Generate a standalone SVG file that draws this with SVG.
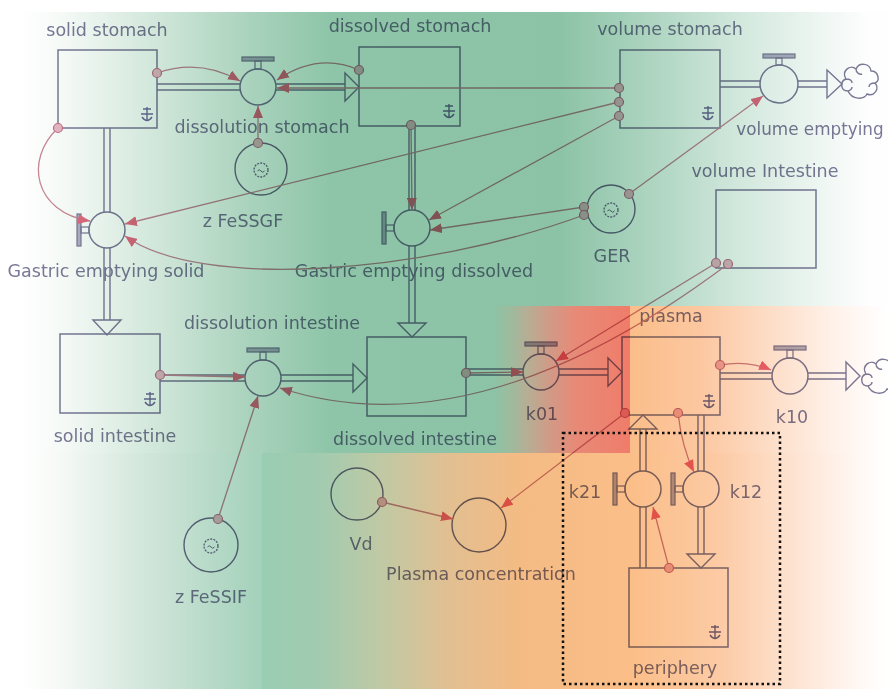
<svg xmlns="http://www.w3.org/2000/svg" width="888" height="689" viewBox="0 0 888 689">
<defs>
  <!-- background washes -->
  <linearGradient id="gTop" gradientUnits="userSpaceOnUse" x1="18" y1="0" x2="888" y2="0">
    <stop offset="0" stop-color="#ffffff"/>
    <stop offset="0.048" stop-color="#f6faf7"/>
    <stop offset="0.152" stop-color="#d3e8dc"/>
    <stop offset="0.267" stop-color="#a9d2bc"/>
    <stop offset="0.359" stop-color="#8ec5a8"/>
    <stop offset="0.623" stop-color="#8cc3a6"/>
    <stop offset="0.715" stop-color="#a9d2bd"/>
    <stop offset="0.83" stop-color="#d2e8dd"/>
    <stop offset="0.922" stop-color="#eef6f2"/>
    <stop offset="0.98" stop-color="#fefefe"/>
  </linearGradient>
  <linearGradient id="gRed" gradientUnits="userSpaceOnUse" x1="493" y1="0" x2="630" y2="0">
    <stop offset="0" stop-color="#8cc3a6"/>
    <stop offset="0.124" stop-color="#9dbb9e"/>
    <stop offset="0.27" stop-color="#b9ac93"/>
    <stop offset="0.416" stop-color="#d19a86"/>
    <stop offset="0.6" stop-color="#e78a77"/>
    <stop offset="1" stop-color="#f07c6a"/>
  </linearGradient>
  <linearGradient id="gOrange" gradientUnits="userSpaceOnUse" x1="630" y1="0" x2="888" y2="0">
    <stop offset="0" stop-color="#fbbe8a"/>
    <stop offset="0.27" stop-color="#fcc7a0"/>
    <stop offset="0.58" stop-color="#fde0cc"/>
    <stop offset="0.81" stop-color="#fff3ec"/>
    <stop offset="1" stop-color="#ffffff"/>
  </linearGradient>
  <linearGradient id="gBL" gradientUnits="userSpaceOnUse" x1="20" y1="0" x2="262" y2="0">
    <stop offset="0" stop-color="#ffffff"/>
    <stop offset="0.17" stop-color="#f5f9f6"/>
    <stop offset="0.54" stop-color="#cfe5d9"/>
    <stop offset="1" stop-color="#a3d1ba"/>
  </linearGradient>
  <linearGradient id="gBR" gradientUnits="userSpaceOnUse" x1="262" y1="0" x2="888" y2="0">
    <stop offset="0" stop-color="#99cdb2"/>
    <stop offset="0.093" stop-color="#a2cbb0"/>
    <stop offset="0.204" stop-color="#c4c8a2"/>
    <stop offset="0.3" stop-color="#e2bf91"/>
    <stop offset="0.412" stop-color="#f4bb84"/>
    <stop offset="0.587" stop-color="#fbbe88"/>
    <stop offset="0.73" stop-color="#fccaa4"/>
    <stop offset="0.859" stop-color="#fee5d5"/>
    <stop offset="0.955" stop-color="#fff8f4"/>
    <stop offset="1" stop-color="#ffffff"/>
  </linearGradient>

  <!-- filled arrowhead of an information link -->
  <marker id="ah" viewBox="0 0 12 10" refX="12" refY="5" markerWidth="12" markerHeight="10" markerUnits="userSpaceOnUse" orient="auto">
    <path d="M0,0 L12,5 L0,10 Z" fill="#e66b80"/>
  </marker>

  <!-- non-negative stock mark -->
  <path id="nonneg" d="M-4,-6 H4 M0,-8 V5 M-6,-1 H6 M-5,2 Q0,9 5,2" fill="none" stroke="#6f6c9c" stroke-width="1.4"/>
  <!-- graphical-function mark inside converters -->
  <g id="gf">
    <circle r="7" fill="none" stroke="#6f6d8f" stroke-width="1.3" stroke-dasharray="2 1.2"/>
    <path d="M-3.5,1 q1.75,-2.5 3.5,0 t3.5,0" fill="none" stroke="#6f6d8f" stroke-width="1"/>
  </g>
  <!-- cloud (source / sink) -->
  <path id="cloud" d="M-12,10 C-20,10 -20,0 -14,-2 C-19,-10 -10,-17 -4,-12 C-1,-19 10,-18 11,-10 C19,-10 20,0 15,2 C20,8 14,16 7,13 C4,19 -8,19 -12,10 Z M-4,-12 C-4,-8 0,-6 2,-7 M15,2 C11,2 9,4 9,6 M-14,-2 C-10,-2 -8,0 -8,2 M-12,10 C-9,9 -8,7 -8,6" fill="none" stroke="#7b7998" stroke-width="1.4"/>
</defs>
<style>
  .stock { fill: none; stroke: #7b7998; stroke-width: 1.5; }
  .valve { fill: none; stroke: #7b7998; stroke-width: 1.5; }
  .conv { fill: none; stroke: #6f6d8c; stroke-width: 1.4; }
  .bar { fill: #b3b1c6; stroke: #7b7998; stroke-width: 1.2; }
  .stem { fill: none; stroke: #7b7998; stroke-width: 1.2; }
  .pipe { fill: none; stroke: #7b7998; stroke-width: 1.4; }
  .head { fill: none; stroke: #7b7998; stroke-width: 1.4; stroke-linejoin: miter; }
  .link { fill: none; stroke: #c98796; stroke-width: 1.3; marker-end: url(#ah); }
  .org { fill: #eab7c5; stroke: #c0708a; stroke-width: 1.2; }
  text { font-family: "DejaVu Sans", "Liberation Sans", sans-serif; font-size: 17.5px; fill: #7b7998; text-anchor: middle; }
</style>

<g id="background">
  <rect x="0" y="0" width="888" height="689" fill="#ffffff"/>
  <rect x="18" y="12" width="870" height="442" fill="url(#gTop)"/>
  <rect x="493" y="306" width="137" height="148" fill="url(#gRed)"/>
  <rect x="630" y="306" width="258" height="148" fill="url(#gOrange)"/>
  <rect x="20" y="453" width="242" height="236" fill="url(#gBL)"/>
  <rect x="262" y="453" width="626" height="236" fill="url(#gBR)"/>
</g>

<g id="model" style="mix-blend-mode:multiply">
  <!-- flow pipes -->
  <g id="pipes">
    <path class="pipe" d="M157,84 H240.5 M157,90 H240.5 M275.5,84 H345 M275.5,90 H345"/>
    <polygon class="head" points="345,73 359,87 345,101"/>
    <path class="pipe" d="M720,81 H760.2 M720,87 H760.2 M797.8,81 H827 M797.8,87 H827"/>
    <polygon class="head" points="827,70 842,84 827,98"/>
    <path class="pipe" d="M104,128 V212.3 M110,128 V212.3 M104,247.7 V320 M110,247.7 V320"/>
    <polygon class="head" points="93,320 107,335 121,320"/>
    <path class="pipe" d="M409,126 V210.3 M415,126 V210.3 M409,245.7 V323 M415,245.7 V323"/>
    <polygon class="head" points="398,323 412,337 426,323"/>
    <path class="pipe" d="M160,375 H245.3 M160,381 H245.3 M280.7,375 H353 M280.7,381 H353"/>
    <polygon class="head" points="353,364 367,378 353,392"/>
    <path class="pipe" d="M466,369 H523.3 M466,375 H523.3 M558.7,369 H608 M558.7,375 H608"/>
    <polygon class="head" points="608,358 622,372 608,386"/>
    <path class="pipe" d="M720,373 H772.3 M720,379 H772.3 M807.7,373 H846 M807.7,379 H846"/>
    <polygon class="head" points="846,362 860,376 846,390"/>
    <path class="pipe" d="M698,415 V471.3 M704,415 V471.3 M698,506.7 V554 M704,506.7 V554"/>
    <polygon class="head" points="687,554 701,568 715,554"/>
    <path class="pipe" d="M640,568 V506.7 M646,568 V506.7 M640,471.3 V429 M646,471.3 V429"/>
    <polygon class="head" points="629,429 643,415 657,429"/>
    <use href="#cloud" x="860" y="81"/>
    <use href="#cloud" x="880" y="376"/>
  </g>

  <!-- stocks -->
  <g id="solid-stomach">
    <rect class="stock" x="58" y="50" width="99" height="78"/>
    <use href="#nonneg" x="147" y="115"/>
    <text x="107" y="36">solid stomach</text>
  </g>
  <g id="dissolved-stomach">
    <rect class="stock" x="359" y="47" width="101" height="79"/>
    <use href="#nonneg" x="449" y="112"/>
    <text x="410" y="32">dissolved stomach</text>
  </g>
  <g id="volume-stomach">
    <rect class="stock" x="620" y="50" width="100" height="78"/>
    <use href="#nonneg" x="708" y="114"/>
    <text x="670" y="35">volume stomach</text>
  </g>
  <g id="volume-intestine">
    <rect class="stock" x="716" y="190" width="100" height="78"/>
    <text x="765" y="177">volume Intestine</text>
  </g>
  <g id="solid-intestine">
    <rect class="stock" x="60" y="334" width="100" height="79"/>
    <use href="#nonneg" x="150" y="400"/>
    <text x="115" y="442">solid intestine</text>
  </g>
  <g id="dissolved-intestine">
    <rect class="stock" x="367" y="337" width="99" height="79"/>
    <text x="415" y="445">dissolved intestine</text>
  </g>
  <g id="plasma">
    <rect class="stock" x="622" y="337" width="98" height="78"/>
    <use href="#nonneg" x="709" y="402"/>
    <text x="671" y="322">plasma</text>
  </g>
  <g id="periphery">
    <rect class="stock" x="629" y="568" width="99" height="79"/>
    <use href="#nonneg" x="715" y="633"/>
    <text x="675" y="674">periphery</text>
  </g>

  <!-- flows -->
  <g id="dissolution-stomach">
    <rect class="bar" x="242" y="57" width="32" height="4"/>
    <rect class="stem" x="255" y="61" width="6" height="8"/>
    <circle class="valve" cx="258" cy="87" r="18"/>
    <text x="262" y="133">dissolution stomach</text>
  </g>
  <g id="volume-emptying">
    <rect class="bar" x="763" y="54" width="32" height="4"/>
    <rect class="stem" x="776" y="58" width="6" height="7"/>
    <circle class="valve" cx="779" cy="84" r="19"/>
    <text x="810" y="135" style="font-size:16.8px">volume emptying</text>
  </g>
  <g id="gastric-emptying-solid">
    <rect class="bar" x="77" y="214" width="4" height="32"/>
    <rect class="stem" x="81" y="227" width="8" height="6"/>
    <circle class="valve" cx="107" cy="230" r="18"/>
    <text x="106" y="277">Gastric emptying solid</text>
  </g>
  <g id="gastric-emptying-dissolved">
    <rect class="bar" x="382" y="212" width="4" height="32"/>
    <rect class="stem" x="386" y="225" width="8" height="6"/>
    <circle class="valve" cx="412" cy="228" r="18"/>
    <text x="414" y="277">Gastric emptying dissolved</text>
  </g>
  <g id="dissolution-intestine">
    <rect class="bar" x="247" y="348" width="32" height="4"/>
    <rect class="stem" x="260" y="352" width="6" height="8"/>
    <circle class="valve" cx="263" cy="378" r="18"/>
    <text x="272" y="329">dissolution intestine</text>
  </g>
  <g id="k01">
    <rect class="bar" x="525" y="342" width="32" height="4"/>
    <rect class="stem" x="538" y="346" width="6" height="8"/>
    <circle class="valve" cx="541" cy="372" r="18"/>
    <text x="542" y="420">k01</text>
  </g>
  <g id="k10">
    <rect class="bar" x="774" y="346" width="32" height="4"/>
    <rect class="stem" x="787" y="350" width="6" height="8"/>
    <circle class="valve" cx="790" cy="376" r="18"/>
    <text x="792" y="423">k10</text>
  </g>
  <g id="k21">
    <rect class="bar" x="613" y="473" width="4" height="32"/>
    <rect class="stem" x="617" y="486" width="8" height="6"/>
    <circle class="valve" cx="643" cy="489" r="18"/>
    <text x="585" y="498">k21</text>
  </g>
  <g id="k12">
    <rect class="bar" x="671" y="473" width="4" height="32"/>
    <rect class="stem" x="675" y="486" width="8" height="6"/>
    <circle class="valve" cx="701" cy="489" r="18"/>
    <text x="746" y="498">k12</text>
  </g>

  <!-- converters -->
  <g id="z-fessgf">
    <circle class="conv" cx="261" cy="169" r="26"/>
    <use href="#gf" x="261" y="170"/>
    <text x="243" y="227">z FeSSGF</text>
  </g>
  <g id="ger">
    <circle class="conv" cx="611" cy="209" r="24"/>
    <use href="#gf" x="611" y="210"/>
    <text x="612" y="262">GER</text>
  </g>
  <g id="z-fessif">
    <circle class="conv" cx="211" cy="545" r="27"/>
    <use href="#gf" x="211" y="546"/>
    <text x="211" y="603">z FeSSIF</text>
  </g>
  <g id="vd">
    <circle class="conv" cx="357" cy="494" r="26"/>
    <text x="361" y="550">Vd</text>
  </g>
  <g id="plasma-concentration">
    <circle class="conv" cx="479" cy="525" r="27"/>
    <text x="481" y="580">Plasma concentration</text>
  </g>

  <!-- information links -->
  <g id="connectors">
    <path class="link" d="M157,73 Q200,58 240,81"/>
    <path class="link" d="M359,70 Q318,52 277,80"/>
    <path class="link" d="M619,88 L277,88"/>
    <path class="link" d="M258,143 L258,106"/>
    <path class="link" d="M58,128 C24,160 34,212 90,221"/>
    <path class="link" d="M619,102 L125,224"/>
    <path class="link" d="M619,116 L429,220"/>
    <path class="link" d="M584,207 L430,230"/>
    <path class="link" d="M584,215 C420,275 200,290 125,236"/>
    <path class="link" d="M629,194 L763,96"/>
    <path class="link" d="M716,263 L556,361"/>
    <path class="link" d="M728,264 C600,360 440,440 280,388"/>
    <path class="link" d="M720,365 Q748,360 771,370"/>
    <path class="link" d="M678,413 Q682,448 694,472"/>
    <path class="link" d="M669,568 L653,507"/>
    <path class="link" d="M625,413 L501,508"/>
    <path class="link" d="M382,502 L453,519"/>
    <path class="link" d="M218,519 L258,396"/>
    <path class="link" d="M160,375 L245,377"/>
    <path class="link" d="M466,373 L523,372"/>
    <path class="link" d="M411,125 L412,210"/>
    <g id="link-origins">
      <circle class="org" cx="157" cy="73" r="4.5"/>
      <circle class="org" cx="359" cy="70" r="4.5"/>
      <circle class="org" cx="619" cy="88" r="4.5"/>
      <circle class="org" cx="619" cy="102" r="4.5"/>
      <circle class="org" cx="619" cy="116" r="4.5"/>
      <circle class="org" cx="258" cy="143" r="4.5"/>
      <circle class="org" cx="58" cy="128" r="4.5"/>
      <circle class="org" cx="584" cy="207" r="4.5"/>
      <circle class="org" cx="584" cy="215" r="4.5"/>
      <circle class="org" cx="629" cy="194" r="4.5"/>
      <circle class="org" cx="716" cy="263" r="4.5"/>
      <circle class="org" cx="728" cy="264" r="4.5"/>
      <circle class="org" cx="720" cy="365" r="4.5"/>
      <circle class="org" cx="678" cy="413" r="4.5"/>
      <circle class="org" cx="625" cy="413" r="4.5"/>
      <circle class="org" cx="669" cy="568" r="4.5"/>
      <circle class="org" cx="382" cy="502" r="4.5"/>
      <circle class="org" cx="218" cy="519" r="4.5"/>
      <circle class="org" cx="160" cy="375" r="4.5"/>
      <circle class="org" cx="466" cy="373" r="4.5"/>
      <circle class="org" cx="411" cy="125" r="4.5"/>
    </g>
  </g>
</g>

<!-- dotted frame round the peripheral compartment -->
<g id="compartment-frame">
  <rect x="563" y="433" width="217" height="251" fill="none" stroke="#111111" stroke-width="2.5" stroke-dasharray="2.5 3"/>
</g>
</svg>
